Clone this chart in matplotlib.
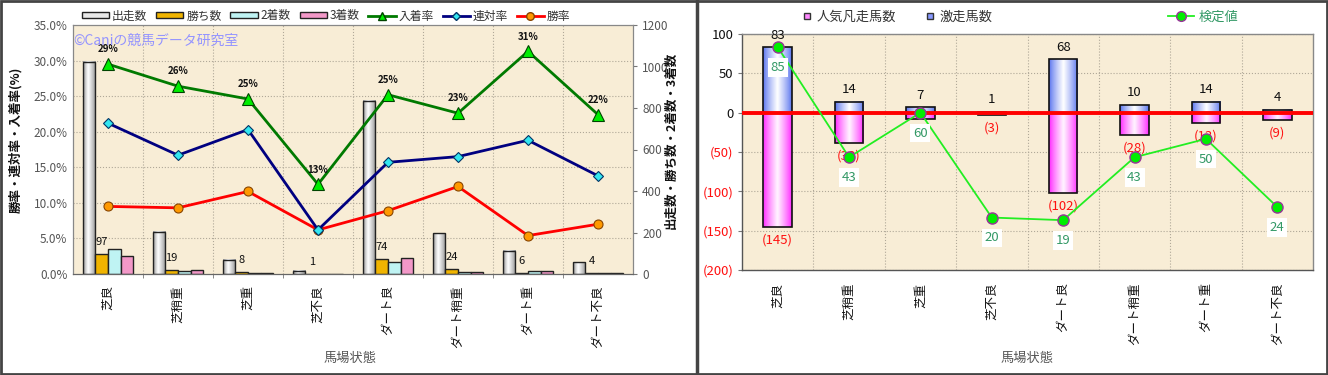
import numpy as np
import matplotlib
matplotlib.use("Agg")
import matplotlib.pyplot as plt
from matplotlib.lines import Line2D
from matplotlib.patches import Rectangle
from matplotlib.ticker import FuncFormatter
import matplotlib.colors as mcolors

plt.rcParams['font.family'] = ['Noto Sans CJK JP', 'DejaVu Sans']

# ---------------- data ----------------
categories = ["芝良", "芝稍重", "芝重", "芝不良", "ダート良", "ダート稍重", "ダート重", "ダート不良"]

# left chart (counts, right axis)
starts = [1024, 204, 69, 16, 834, 196, 112, 57]
wins = [97, 19, 8, 1, 74, 24, 6, 4]
seconds = [120, 15, 6, 0, 57, 8, 15, 4]
thirds = [85, 20, 3, 1, 78, 12, 14, 5]
# left chart (rates %, left axis)
place_rate = [29.5, 26.4, 24.6, 12.6, 25.2, 22.6, 31.3, 22.4]
place_labels = ["29%", "26%", "25%", "13%", "25%", "23%", "31%", "22%"]
quinella_rate = [21.2, 16.7, 20.3, 6.2, 15.7, 16.5, 18.8, 13.8]
win_rate = [9.5, 9.3, 11.6, 6.2, 8.9, 12.3, 5.4, 7.0]

# right chart
gekisou = [83, 14, 7, 1, 68, 10, 14, 4]
bonsou = [-145, -38, -8, -3, -102, -28, -13, -9]
kentei = [85, 43, 60, 20, 19, 43, 50, 24]

BG = '#F8EDD6'
GRID = '#B0A898'


def hgrad(ax, bars, edge, center, peak=0.5, z=2):
    e = np.array(mcolors.to_rgb(edge))
    c = np.array(mcolors.to_rgb(center))
    t = np.linspace(0, 1, 64)
    p = np.where(t < peak, t / peak, (1 - t) / (1 - peak))
    p = np.clip(p, 0, 1) ** 0.8
    img = (e[None, :] * (1 - p[:, None]) + c[None, :] * p[:, None])[None, :, :]
    for b in bars:
        x, y = b.get_xy()
        w, h = b.get_width(), b.get_height()
        if h == 0:
            continue
        y0, y1 = min(y, y + h), max(y, y + h)
        ax.imshow(img, extent=[x, x + w, y0, y1], aspect='auto',
                  interpolation='bilinear', zorder=z - 0.05)
        b.set_facecolor('none')
        b.set_zorder(z)


fig = plt.figure(figsize=(13.28, 3.75), dpi=100)
W, H = 1328, 375

# ================= LEFT CHART =================
axc = fig.add_axes([73 / W, 1 - 274 / H, 560 / W, 249 / H])  # counts
axc.set_facecolor(BG)
x = np.arange(len(categories))
bw = 0.18
offs = [-0.27, -0.09, 0.09, 0.27]
b_st = axc.bar(x + offs[0], starts, bw, edgecolor='#222222', linewidth=1.0, zorder=2)
b_w = axc.bar(x + offs[1], wins, bw, color='#F0B400', edgecolor='#222222', linewidth=1.0, zorder=2)
b_2 = axc.bar(x + offs[2], seconds, bw, color='#BFF3F3', edgecolor='#222222', linewidth=1.0, zorder=2)
b_3 = axc.bar(x + offs[3], thirds, bw, color='#F298C8', edgecolor='#222222', linewidth=1.0, zorder=2)
hgrad(axc, b_st, '#8A8A8A', '#FFFFFF', peak=0.4)
for xi, v in zip(x, wins):
    axc.annotate(str(v), (xi + offs[1], v), xytext=(0, 5), textcoords='offset points',
                 ha='center', va='bottom', fontsize=8, color='#111111', zorder=5)
axc.set_xlim(-0.5, 7.5)
axc.set_ylim(0, 1200)

axr = axc.twinx()  # rates, shown on left

axc.yaxis.tick_right()
axc.yaxis.set_label_position('right')
axc.set_yticks(range(0, 1201, 200))
axc.set_yticks([1200 * k / 7 for k in range(8)], minor=True)
axc.tick_params(axis='y', which='major', labelsize=8.5, labelcolor='#555555', length=3, color='#777777',
                left=False, labelleft=False, right=True, labelright=True)
axc.tick_params(axis='y', which='minor', length=0, left=False, right=False)
axc.grid(which='minor', axis='y', color=GRID, linestyle=':', linewidth=0.8, zorder=0)
axc.set_xticks(x)
axc.set_xticklabels(categories, rotation=90, fontsize=9, color='#111111')
axc.set_xticks(np.arange(0.5, 7.5, 1), minor=True)
axc.tick_params(axis='x', which='major', length=0, pad=8)
axc.tick_params(axis='x', which='minor', length=3, color='#777777')
axc.grid(which='minor', axis='x', color=GRID, linestyle=':', linewidth=0.8, zorder=0)
axc.set_axisbelow(True)
for s in axc.spines.values():
    s.set_color('#888888')
    s.set_linewidth(0.9)
axc.spines['bottom'].set_color('#666666')

axr.yaxis.tick_left()
axr.yaxis.set_label_position('left')
axr.set_ylim(0, 35)
axr.set_yticks(range(0, 36, 5))
axr.yaxis.set_major_formatter(FuncFormatter(lambda v, p: f"{v:.1f}%"))
axr.tick_params(axis='y', labelsize=8.5, labelcolor='#555555', length=0, pad=4,
                right=False, labelright=False, left=True, labelleft=True)
for s in axr.spines.values():
    s.set_visible(False)
axr.plot(x, win_rate, color='#FF0000', lw=2, marker='o', ms=6.5, mfc='#FF9900', mec='#884400', mew=0.8, zorder=4)
axr.plot(x, quinella_rate, color='#000080', lw=2, marker='D', ms=5, mfc='#33E6F0', mec='#003366', mew=0.8, zorder=4)
axr.plot(x, place_rate, color='#007A00', lw=2, marker='^', ms=8, mfc='#00EE00', mec='#004400', mew=0.8, zorder=4)
for xi, v, lab in zip(x, place_rate, place_labels):
    axr.annotate(lab, (xi, v), xytext=(0, 7), textcoords='offset points', ha='center',
                 va='bottom', fontsize=7, fontweight='bold', color='#111111', zorder=5)
axr.text(0.0, 0.935, "©Caniの競馬データ研究室", transform=axr.transAxes, fontsize=10,
         color='#9494FF', ha='left', va='center', zorder=6)

fig.text(16 / W, 1 - 140 / H, "勝率・連対率・入着率(%)", rotation=90, ha='center', va='center',
         fontsize=9, fontweight='bold', color='#111111')
fig.text(671 / W, 1 - 140 / H, "出走数・勝ち数・2着数・3着数", rotation=90, ha='center', va='center',
         fontsize=9, fontweight='bold', color='#111111')
fig.text(350 / W, 1 - 358 / H, "馬場状態", ha='center', va='center', fontsize=9.5, color='#555555')

lh = [Rectangle((0, 0), 1, 1, facecolor='#E8E8E8', edgecolor='#222222'),
      Rectangle((0, 0), 1, 1, facecolor='#F0B400', edgecolor='#222222'),
      Rectangle((0, 0), 1, 1, facecolor='#BFF3F3', edgecolor='#222222'),
      Rectangle((0, 0), 1, 1, facecolor='#F298C8', edgecolor='#222222'),
      Line2D([], [], color='#007A00', lw=2, marker='^', ms=6, mfc='#00EE00', mec='#004400'),
      Line2D([], [], color='#000080', lw=2, marker='D', ms=4, mfc='#33E6F0', mec='#003366'),
      Line2D([], [], color='#FF0000', lw=2, marker='o', ms=5.5, mfc='#FF9900', mec='#884400')]
ll = ["出走数", "勝ち数", "2着数", "3着数", "入着率", "連対率", "勝率"]
leg1 = fig.legend(lh, ll, loc='center left', bbox_to_anchor=(82 / W, 1 - 16 / H), ncol=7,
                  frameon=False, fontsize=8.5, handlelength=2.3, handleheight=0.45,
                  handletextpad=0.25, columnspacing=0.75, borderaxespad=0, borderpad=0)
for t in leg1.get_texts():
    t.set_color('#333333')

# ================= RIGHT CHART =================
ax2 = fig.add_axes([742 / W, 1 - 270 / H, 571 / W, 236 / H])
ax2.set_facecolor(BG)
bp = ax2.bar(x, gekisou, 0.4, edgecolor='#111111', linewidth=1.2, zorder=2)
bn = ax2.bar(x, bonsou, 0.4, edgecolor='#111111', linewidth=1.2, zorder=2)
hgrad(ax2, bp, '#5570EE', '#FFFFFF', peak=0.5)
hgrad(ax2, bn, '#FF22FF', '#FFF4FF', peak=0.5)
ax2.axhline(0, color='#FF0000', lw=2.8, zorder=3)
for xi, v in zip(x, gekisou):
    ax2.annotate(str(v), (xi, v), xytext=(0, 4), textcoords='offset points', ha='center',
                 va='bottom', fontsize=9.5, color='#111111', zorder=5)
for xi, v in zip(x, bonsou):
    ax2.annotate(f"({-v})", (xi, v), xytext=(0, -5), textcoords='offset points', ha='center',
                 va='top', fontsize=9.5, color='#FF1010', zorder=5)
ax2.set_xlim(-0.5, 7.5)
ax2.set_ylim(-200, 100)
ax2.set_yticks(range(-200, 101, 50))
ax2.yaxis.set_major_formatter(FuncFormatter(lambda v, p: f"({-int(v)})" if v < 0 else f"{int(v)}"))
ax2.tick_params(axis='y', labelsize=9.5, length=3, color='#777777', pad=3)
for lab, v in zip(ax2.get_yticklabels(), range(-200, 101, 50)):
    lab.set_color('#FF1010' if v < 0 else '#111111')
ax2.grid(axis='y', color=GRID, linestyle=':', linewidth=0.8)
ax2.set_xticks(x)
ax2.set_xticklabels(categories, rotation=90, fontsize=9, color='#111111')
ax2.set_xticks(np.arange(0.5, 7.5, 1), minor=True)
ax2.tick_params(axis='x', which='major', length=0, pad=9)
ax2.tick_params(axis='x', which='minor', length=0)
ax2.grid(which='minor', axis='x', color=GRID, linestyle=':', linewidth=0.8)
ax2.set_axisbelow(True)
for s in ax2.spines.values():
    s.set_color('#888888')
    s.set_linewidth(1.0)
ax2.spines['left'].set_color('#555555')
ax2.spines['bottom'].set_color('#555555')

ax3 = ax2.twinx()
ax3.set_ylim(0, 90)
ax3.axis('off')
ax3.plot(x, kentei, color='#22EE22', lw=1.3, marker='o', ms=8, mfc='#00EE00', mec='#993399', mew=1.0, zorder=4)
for xi, v in zip(x, kentei):
    ax3.annotate(str(v), (xi, v), xytext=(0, -10), textcoords='offset points', ha='center',
                 va='top', fontsize=9.5, color='#339966', zorder=5,
                 bbox=dict(boxstyle='square,pad=0.2', fc='white', ec='none'))

fig.text(1027 / W, 1 - 358 / H, "馬場状態", ha='center', va='center', fontsize=9.5, color='#555555')

rh = [Line2D([], [], ls='none', marker='s', ms=5, mfc='#FF88FF', mec='#333333', mew=1.0),
      Line2D([], [], ls='none', marker='s', ms=5, mfc='#8899FF', mec='#333333', mew=1.0)]
leg2 = fig.legend(rh, ["人気凡走馬数", "激走馬数"], loc='center left', bbox_to_anchor=(802 / W, 1 - 17 / H),
                  ncol=2, frameon=False, fontsize=9.5, handlelength=0.8, handletextpad=0.3,
                  columnspacing=2.2, borderaxespad=0, borderpad=0)
for t in leg2.get_texts():
    t.set_color('#333333')
kh = [Line2D([], [], color='#22EE22', lw=1.3, marker='o', ms=7, mfc='#00EE00', mec='#993399')]
leg3 = fig.legend(kh, ["検定値"], loc='center left', bbox_to_anchor=(1168 / W, 1 - 17 / H),
                  frameon=False, fontsize=9.5, handlelength=2.0, handletextpad=0.3,
                  borderaxespad=0, borderpad=0)
for t in leg3.get_texts():
    t.set_color('#339966')

# panel borders
fig.add_artist(Rectangle((0.001, 0.002), 0.998, 0.996, transform=fig.transFigure, fill=False,
                         edgecolor='#444444', linewidth=2))
fig.add_artist(Line2D([697 / W, 697 / W], [0, 1], transform=fig.transFigure, color='#444444', lw=2.5))

fig.savefig("out.png", dpi=100, facecolor='white')
